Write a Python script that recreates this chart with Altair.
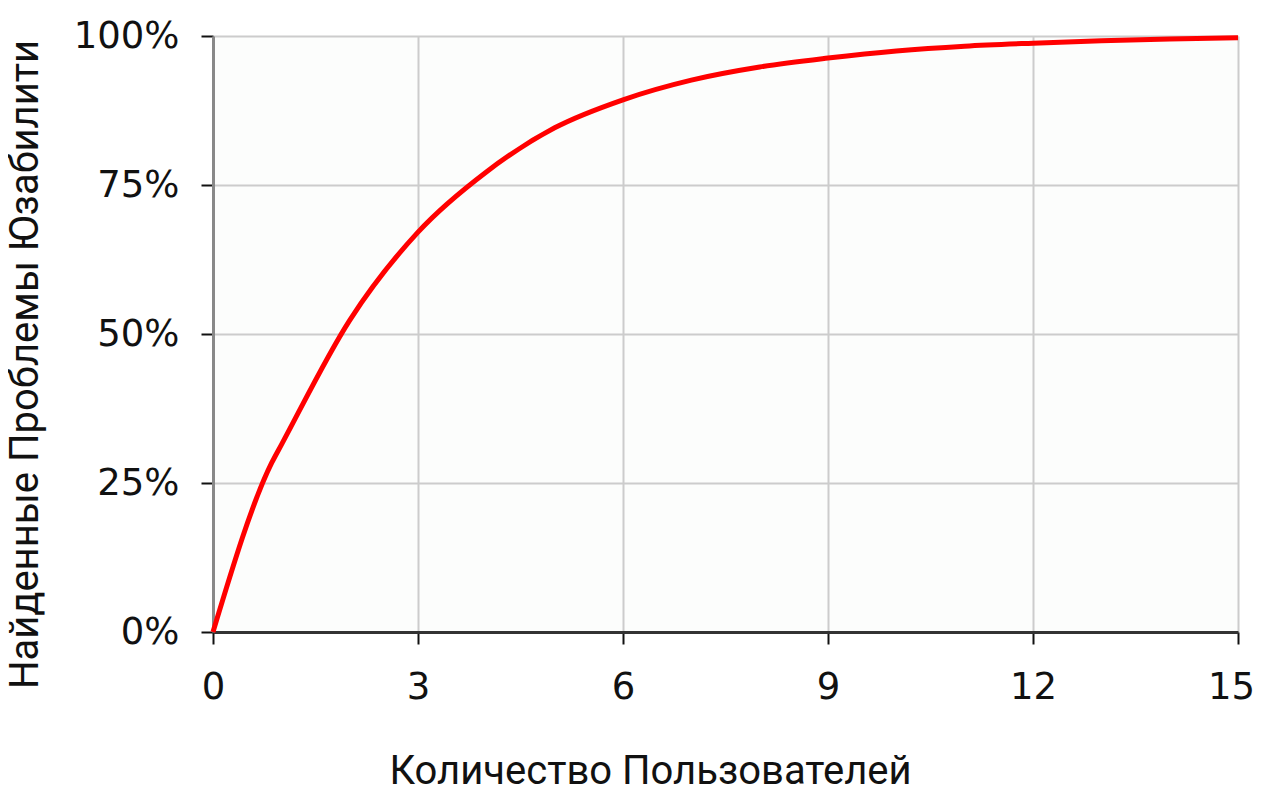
import altair as alt
import pandas as pd

users = [0, 0.86, 1, 2, 3, 4, 5, 6, 7, 8, 9, 10, 11, 12, 13, 14, 15]
found = [0, 28.4, 31.4, 52.3, 67.1, 77.2, 84.6, 89.3, 92.6, 94.8, 96.3, 97.5, 98.3, 98.8, 99.2, 99.5, 99.7]

df = pd.DataFrame({"users": users, "found": found})

x_ticks = [0, 3, 6, 9, 12, 15]
y_ticks = [0, 25, 50, 75, 100]

chart = alt.Chart(df).mark_line(color="#ff0000", strokeWidth=5, interpolate="monotone").encode(
    x=alt.X("users:Q", scale=alt.Scale(domain=[0, 15], nice=False),
            axis=alt.Axis(values=x_ticks, title="Количество Пользователей",
                          titleX=437, titleY=151, titleAlign="center", titleBaseline="alphabetic",
                          titleFont="Roboto", titleFontSize=40, titleFontWeight="normal", titleColor="#111",
                          labelFont="DejaVu Sans", labelFontSize=37, labelColor="#111", labelPadding=25,
                          labelOffset={"condition": {"test": "datum.value == 15", "value": -7}, "value": 0},
                          tickSize=12, tickColor="#111", tickWidth=2,
                          domainColor="#333", domainWidth=3,
                          gridColor="#cccccc", gridWidth=2, labelFlush=False)),
    y=alt.Y("found:Q", scale=alt.Scale(domain=[0, 100], nice=False),
            axis=alt.Axis(values=y_ticks, title="Найденные  Проблемы Юзабилити",
                          labelExpr="datum.value + '%'",
                          titleX=-176, titleY=328, titleAngle=-90, titleAlign="center", titleBaseline="alphabetic",
                          titleFont="Roboto", titleFontSize=40, titleFontWeight="normal", titleColor="#111",
                          labelFont="DejaVu Sans", labelFontSize=37, labelColor="#111", labelPadding=22,
                          tickSize=12, tickColor="#111", tickWidth=2,
                          domainColor="#888888", domainWidth=3,
                          gridColor="#cccccc", gridWidth=2)),
).properties(
    width=1025, height=596,
    autosize=alt.AutoSizeParams(type="none"),
    padding={"left": 205, "top": 28, "right": 16, "bottom": 154},
).configure_view(stroke=None, fill="#fcfdfc")

chart.save("out.html", embed_options={"renderer": "svg", "actions": False})
